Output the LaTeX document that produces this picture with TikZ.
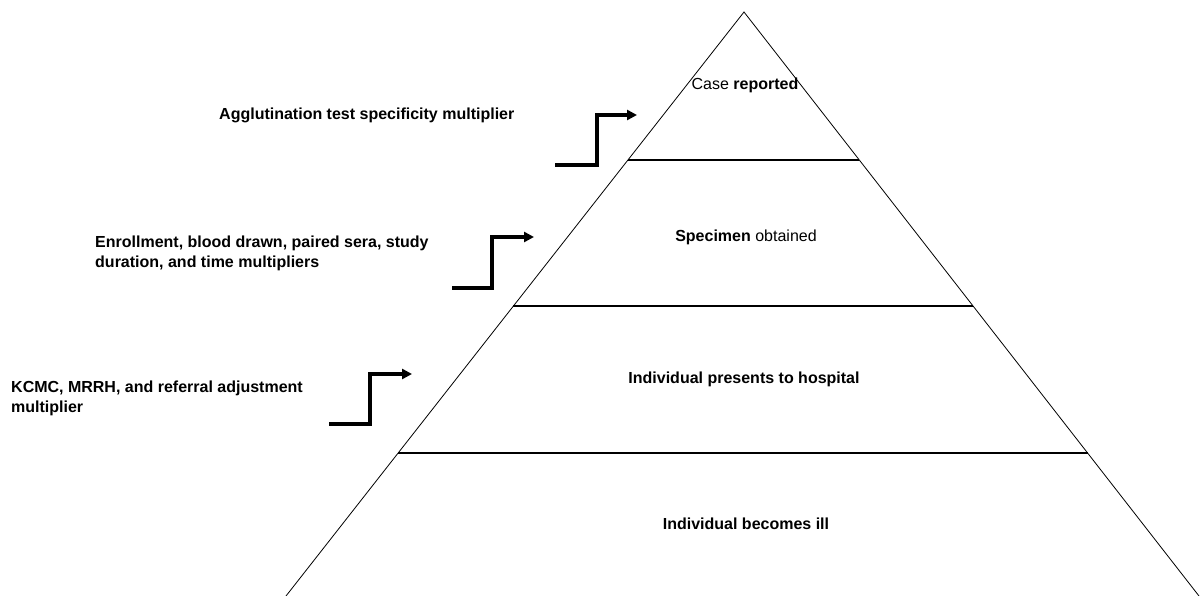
\documentclass[tikz,border=0pt]{standalone}
\usepackage{fontspec}
\setmainfont{Liberation Sans}
\usetikzlibrary{calc}
\usetikzlibrary{arrows.meta}

\begin{document}
\begin{tikzpicture}[
    x=1pt, y=-1pt,
    every node/.style={font=\fontsize{16}{20}\selectfont\bfseries, inner sep=0pt},
    edge/.style={line width=0.8pt},
    tier/.style={line width=1.3pt},
    level/.style={anchor=center, align=center},
    factor/.style={anchor=west, align=left},
    stair/.style={-{Triangle[length=10pt,width=10pt]}, line width=3.5pt}
]
\useasboundingbox (0,0) rectangle (1203,596);
% pyramid
\coordinate (top) at (744,12);
\coordinate (left) at (286,596);
\coordinate (right) at (1199,596);
\draw[edge] (left) -- (top) -- (right);
\foreach \t in {0.2534, 0.5034, 0.7551}
    \draw[tier] ($(top)!\t!(left)$) -- ($(top)!\t!(right)$);

\node[level] (case) at (745,85) {\mdseries Case \bfseries reported};
\node[level] (specimen) at (746,237) {Specimen \mdseries obtained};
\node[level] (hospital) at (744,379) {Individual presents to hospital};
\node[level] (ill) at (746,524) {Individual becomes ill};

% multipliers
\node[factor] (agglut) at (219,115) {Agglutination test specificity multiplier};
\node[factor] (enroll) at (95,253) {Enrollment, blood drawn, paired sera, study\\duration, and time multipliers};
\node[factor] (kcmc) at (11,398) {KCMC, MRRH, and referral adjustment\\multiplier};

\coordinate (s1) at (555,165);
\coordinate (e1) at (637,115);
\coordinate (s2) at (452,288);
\coordinate (e2) at (534,237);
\coordinate (s3) at (329,424);
\coordinate (e3) at (412,374);
\draw[stair] (s1) -- ++(42,0) |- (e1);
\draw[stair] (s2) -- ++(40,0) |- (e2);
\draw[stair] (s3) -- ++(41,0) |- (e3);
\end{tikzpicture}
\end{document}
